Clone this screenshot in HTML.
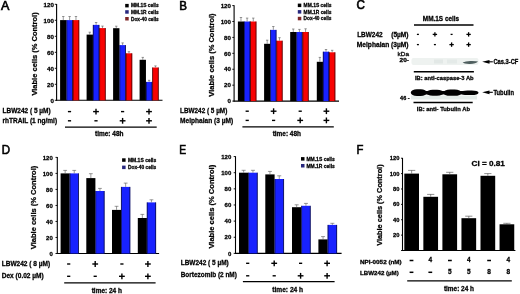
<!DOCTYPE html>
<html><head><meta charset="utf-8"><style>
html,body{margin:0;padding:0;background:#fff;width:520px;height:294px;overflow:hidden}
svg{display:block;font-family:"Liberation Sans", sans-serif;filter:blur(0.3px)}
text{stroke:#000;stroke-width:0.26px}
</style></head><body>
<svg width="520" height="294" viewBox="0 0 520 294">
<rect width="520" height="294" fill="#fff"/>
<text x="1.10" y="9.70" font-size="12.620027434842251" font-weight="normal" textLength="8.40" lengthAdjust="spacingAndGlyphs" style="stroke-width:0.65px">A</text>
<line x1="56.60" y1="4.00" x2="56.60" y2="100.80" stroke="#000" stroke-width="1.1"/>
<line x1="54.80" y1="100.30" x2="56.60" y2="100.30" stroke="#000" stroke-width="0.9"/>
<text x="53.90" y="102.53" font-size="6.2" font-weight="bold" text-anchor="end" >0</text>
<line x1="54.80" y1="84.30" x2="56.60" y2="84.30" stroke="#000" stroke-width="0.9"/>
<text x="53.90" y="86.53" font-size="6.2" font-weight="bold" text-anchor="end" >20</text>
<line x1="54.80" y1="68.30" x2="56.60" y2="68.30" stroke="#000" stroke-width="0.9"/>
<text x="53.90" y="70.53" font-size="6.2" font-weight="bold" text-anchor="end" >40</text>
<line x1="54.80" y1="52.30" x2="56.60" y2="52.30" stroke="#000" stroke-width="0.9"/>
<text x="53.90" y="54.53" font-size="6.2" font-weight="bold" text-anchor="end" >60</text>
<line x1="54.80" y1="36.30" x2="56.60" y2="36.30" stroke="#000" stroke-width="0.9"/>
<text x="53.90" y="38.53" font-size="6.2" font-weight="bold" text-anchor="end" >80</text>
<line x1="54.80" y1="20.30" x2="56.60" y2="20.30" stroke="#000" stroke-width="0.9"/>
<text x="53.90" y="22.53" font-size="6.2" font-weight="bold" text-anchor="end" >100</text>
<line x1="54.80" y1="4.30" x2="56.60" y2="4.30" stroke="#000" stroke-width="0.9"/>
<text x="53.90" y="6.53" font-size="6.2" font-weight="bold" text-anchor="end" >120</text>
<line x1="56.00" y1="100.30" x2="162.50" y2="100.30" stroke="#000" stroke-width="1.1"/>
<rect x="60.10" y="20.10" width="6.35" height="80.20" fill="#000"/>
<line x1="63.27" y1="16.50" x2="63.27" y2="20.10" stroke="#555" stroke-width="0.6"/>
<line x1="62.07" y1="16.50" x2="64.47" y2="16.50" stroke="#555" stroke-width="0.6"/>
<rect x="66.45" y="20.10" width="6.35" height="80.20" fill="#1822ff"/>
<line x1="66.75" y1="20.10" x2="66.75" y2="100.30" stroke="#000" stroke-width="0.6"/>
<line x1="72.50" y1="20.10" x2="72.50" y2="100.30" stroke="#000" stroke-width="0.6"/>
<line x1="69.62" y1="16.50" x2="69.62" y2="20.10" stroke="#555" stroke-width="0.6"/>
<line x1="68.42" y1="16.50" x2="70.83" y2="16.50" stroke="#555" stroke-width="0.6"/>
<rect x="72.80" y="20.10" width="6.35" height="80.20" fill="#f80202"/>
<line x1="73.10" y1="20.10" x2="73.10" y2="100.30" stroke="#000" stroke-width="0.6"/>
<line x1="78.85" y1="20.10" x2="78.85" y2="100.30" stroke="#000" stroke-width="0.6"/>
<line x1="75.97" y1="16.50" x2="75.97" y2="20.10" stroke="#555" stroke-width="0.6"/>
<line x1="74.77" y1="16.50" x2="77.17" y2="16.50" stroke="#555" stroke-width="0.6"/>
<rect x="86.60" y="34.60" width="6.35" height="65.70" fill="#000"/>
<line x1="89.77" y1="32.20" x2="89.77" y2="34.60" stroke="#555" stroke-width="0.6"/>
<line x1="88.57" y1="32.20" x2="90.97" y2="32.20" stroke="#555" stroke-width="0.6"/>
<rect x="92.95" y="24.90" width="6.35" height="75.40" fill="#1822ff"/>
<line x1="93.25" y1="24.90" x2="93.25" y2="100.30" stroke="#000" stroke-width="0.6"/>
<line x1="99.00" y1="24.90" x2="99.00" y2="100.30" stroke="#000" stroke-width="0.6"/>
<line x1="96.12" y1="22.50" x2="96.12" y2="24.90" stroke="#555" stroke-width="0.6"/>
<line x1="94.92" y1="22.50" x2="97.32" y2="22.50" stroke="#555" stroke-width="0.6"/>
<rect x="99.30" y="28.10" width="6.35" height="72.20" fill="#f80202"/>
<line x1="99.60" y1="28.10" x2="99.60" y2="100.30" stroke="#000" stroke-width="0.6"/>
<line x1="105.35" y1="28.10" x2="105.35" y2="100.30" stroke="#000" stroke-width="0.6"/>
<line x1="102.47" y1="26.10" x2="102.47" y2="28.10" stroke="#555" stroke-width="0.6"/>
<line x1="101.27" y1="26.10" x2="103.67" y2="26.10" stroke="#555" stroke-width="0.6"/>
<rect x="113.10" y="28.20" width="6.35" height="72.10" fill="#000"/>
<line x1="116.27" y1="26.20" x2="116.27" y2="28.20" stroke="#555" stroke-width="0.6"/>
<line x1="115.07" y1="26.20" x2="117.47" y2="26.20" stroke="#555" stroke-width="0.6"/>
<rect x="119.45" y="45.10" width="6.35" height="55.20" fill="#1822ff"/>
<line x1="119.75" y1="45.10" x2="119.75" y2="100.30" stroke="#000" stroke-width="0.6"/>
<line x1="125.50" y1="45.10" x2="125.50" y2="100.30" stroke="#000" stroke-width="0.6"/>
<line x1="122.62" y1="42.90" x2="122.62" y2="45.10" stroke="#555" stroke-width="0.6"/>
<line x1="121.42" y1="42.90" x2="123.82" y2="42.90" stroke="#555" stroke-width="0.6"/>
<rect x="125.80" y="53.30" width="6.35" height="47.00" fill="#f80202"/>
<line x1="126.10" y1="53.30" x2="126.10" y2="100.30" stroke="#000" stroke-width="0.6"/>
<line x1="131.85" y1="53.30" x2="131.85" y2="100.30" stroke="#000" stroke-width="0.6"/>
<line x1="128.97" y1="51.70" x2="128.97" y2="53.30" stroke="#555" stroke-width="0.6"/>
<line x1="127.77" y1="51.70" x2="130.17" y2="51.70" stroke="#555" stroke-width="0.6"/>
<rect x="139.60" y="59.80" width="6.35" height="40.50" fill="#000"/>
<line x1="142.78" y1="57.40" x2="142.78" y2="59.80" stroke="#555" stroke-width="0.6"/>
<line x1="141.58" y1="57.40" x2="143.97" y2="57.40" stroke="#555" stroke-width="0.6"/>
<rect x="145.95" y="81.90" width="6.35" height="18.40" fill="#1822ff"/>
<line x1="146.25" y1="81.90" x2="146.25" y2="100.30" stroke="#000" stroke-width="0.6"/>
<line x1="152.00" y1="81.90" x2="152.00" y2="100.30" stroke="#000" stroke-width="0.6"/>
<line x1="149.12" y1="80.30" x2="149.12" y2="81.90" stroke="#555" stroke-width="0.6"/>
<line x1="147.93" y1="80.30" x2="150.32" y2="80.30" stroke="#555" stroke-width="0.6"/>
<rect x="152.30" y="67.50" width="6.35" height="32.80" fill="#f80202"/>
<line x1="152.60" y1="67.50" x2="152.60" y2="100.30" stroke="#000" stroke-width="0.6"/>
<line x1="158.35" y1="67.50" x2="158.35" y2="100.30" stroke="#000" stroke-width="0.6"/>
<line x1="155.47" y1="65.90" x2="155.47" y2="67.50" stroke="#555" stroke-width="0.6"/>
<line x1="154.28" y1="65.90" x2="156.67" y2="65.90" stroke="#555" stroke-width="0.6"/>
<text x="-95.60" y="37.20" font-size="7.8" font-weight="bold" textLength="83.30" lengthAdjust="spacingAndGlyphs" transform="rotate(-90)">Viable cells (% Control)</text>
<rect x="125.20" y="3.90" width="3.50" height="3.50" fill="#000"/>
<text x="131.00" y="7.40" font-size="5.0" font-weight="bold" textLength="27.70" lengthAdjust="spacingAndGlyphs" >MM.1S cells</text>
<rect x="125.20" y="10.20" width="3.50" height="3.50" fill="#27277e"/>
<text x="131.00" y="13.70" font-size="5.0" font-weight="bold" textLength="27.70" lengthAdjust="spacingAndGlyphs" >MM.1R cells</text>
<rect x="125.20" y="17.00" width="3.50" height="3.50" fill="#7e2424"/>
<text x="131.00" y="20.50" font-size="5.0" font-weight="bold" textLength="27.70" lengthAdjust="spacingAndGlyphs" >Dox-40 cells</text>
<text x="2.50" y="113.10" font-size="6.7" font-weight="bold" textLength="48.20" lengthAdjust="spacingAndGlyphs" >LBW242 ( 5 &#181;M)</text>
<text x="2.50" y="122.80" font-size="6.7" font-weight="bold" textLength="54.60" lengthAdjust="spacingAndGlyphs" >rhTRAIL (1 ng/ml)</text>
<line x1="67.90" y1="111.60" x2="71.10" y2="111.60" stroke="#000" stroke-width="1.4"/>
<line x1="67.90" y1="120.80" x2="71.10" y2="120.80" stroke="#000" stroke-width="1.4"/>
<line x1="93.10" y1="111.60" x2="98.90" y2="111.60" stroke="#000" stroke-width="1.4"/>
<line x1="96.00" y1="108.70" x2="96.00" y2="114.50" stroke="#000" stroke-width="1.4"/>
<line x1="94.40" y1="120.80" x2="97.60" y2="120.80" stroke="#000" stroke-width="1.4"/>
<line x1="121.00" y1="111.60" x2="124.20" y2="111.60" stroke="#000" stroke-width="1.4"/>
<line x1="119.70" y1="120.80" x2="125.50" y2="120.80" stroke="#000" stroke-width="1.4"/>
<line x1="122.60" y1="117.90" x2="122.60" y2="123.70" stroke="#000" stroke-width="1.4"/>
<line x1="146.10" y1="111.60" x2="151.90" y2="111.60" stroke="#000" stroke-width="1.4"/>
<line x1="149.00" y1="108.70" x2="149.00" y2="114.50" stroke="#000" stroke-width="1.4"/>
<line x1="146.10" y1="120.80" x2="151.90" y2="120.80" stroke="#000" stroke-width="1.4"/>
<line x1="149.00" y1="117.90" x2="149.00" y2="123.70" stroke="#000" stroke-width="1.4"/>
<line x1="65.00" y1="127.20" x2="156.70" y2="127.20" stroke="#000" stroke-width="1.3"/>
<text x="95.00" y="136.30" font-size="6.3" font-weight="bold" textLength="28.50" lengthAdjust="spacingAndGlyphs" >time: 48h</text>
<text x="179.20" y="9.70" font-size="12.345679012345679" font-weight="normal" textLength="7.70" lengthAdjust="spacingAndGlyphs" style="stroke-width:0.65px">B</text>
<line x1="234.10" y1="5.28" x2="234.10" y2="101.60" stroke="#000" stroke-width="1.1"/>
<line x1="232.30" y1="101.10" x2="234.10" y2="101.10" stroke="#000" stroke-width="0.9"/>
<text x="231.00" y="103.33" font-size="6.2" font-weight="bold" text-anchor="end" >0</text>
<line x1="232.30" y1="85.18" x2="234.10" y2="85.18" stroke="#000" stroke-width="0.9"/>
<text x="231.00" y="87.41" font-size="6.2" font-weight="bold" text-anchor="end" >20</text>
<line x1="232.30" y1="69.26" x2="234.10" y2="69.26" stroke="#000" stroke-width="0.9"/>
<text x="231.00" y="71.49" font-size="6.2" font-weight="bold" text-anchor="end" >40</text>
<line x1="232.30" y1="53.34" x2="234.10" y2="53.34" stroke="#000" stroke-width="0.9"/>
<text x="231.00" y="55.57" font-size="6.2" font-weight="bold" text-anchor="end" >60</text>
<line x1="232.30" y1="37.42" x2="234.10" y2="37.42" stroke="#000" stroke-width="0.9"/>
<text x="231.00" y="39.65" font-size="6.2" font-weight="bold" text-anchor="end" >80</text>
<line x1="232.30" y1="21.50" x2="234.10" y2="21.50" stroke="#000" stroke-width="0.9"/>
<text x="231.00" y="23.73" font-size="6.2" font-weight="bold" text-anchor="end" >100</text>
<line x1="232.30" y1="5.58" x2="234.10" y2="5.58" stroke="#000" stroke-width="0.9"/>
<text x="231.00" y="7.81" font-size="6.2" font-weight="bold" text-anchor="end" >120</text>
<line x1="233.60" y1="101.10" x2="339.00" y2="101.10" stroke="#000" stroke-width="1.1"/>
<rect x="237.90" y="21.50" width="6.15" height="79.60" fill="#000"/>
<line x1="240.97" y1="17.50" x2="240.97" y2="21.50" stroke="#555" stroke-width="0.6"/>
<line x1="239.78" y1="17.50" x2="242.17" y2="17.50" stroke="#555" stroke-width="0.6"/>
<rect x="244.05" y="21.50" width="6.15" height="79.60" fill="#1822ff"/>
<line x1="244.35" y1="21.50" x2="244.35" y2="101.10" stroke="#000" stroke-width="0.6"/>
<line x1="249.90" y1="21.50" x2="249.90" y2="101.10" stroke="#000" stroke-width="0.6"/>
<line x1="247.12" y1="18.10" x2="247.12" y2="21.50" stroke="#555" stroke-width="0.6"/>
<line x1="245.93" y1="18.10" x2="248.32" y2="18.10" stroke="#555" stroke-width="0.6"/>
<rect x="250.20" y="21.50" width="6.15" height="79.60" fill="#f80202"/>
<line x1="250.50" y1="21.50" x2="250.50" y2="101.10" stroke="#000" stroke-width="0.6"/>
<line x1="256.05" y1="21.50" x2="256.05" y2="101.10" stroke="#000" stroke-width="0.6"/>
<line x1="253.28" y1="18.10" x2="253.28" y2="21.50" stroke="#555" stroke-width="0.6"/>
<line x1="252.08" y1="18.10" x2="254.47" y2="18.10" stroke="#555" stroke-width="0.6"/>
<rect x="264.10" y="43.80" width="6.15" height="57.30" fill="#000"/>
<line x1="267.18" y1="40.20" x2="267.18" y2="43.80" stroke="#555" stroke-width="0.6"/>
<line x1="265.98" y1="40.20" x2="268.38" y2="40.20" stroke="#555" stroke-width="0.6"/>
<rect x="270.25" y="29.90" width="6.15" height="71.20" fill="#1822ff"/>
<line x1="270.55" y1="29.90" x2="270.55" y2="101.10" stroke="#000" stroke-width="0.6"/>
<line x1="276.10" y1="29.90" x2="276.10" y2="101.10" stroke="#000" stroke-width="0.6"/>
<line x1="273.32" y1="26.50" x2="273.32" y2="29.90" stroke="#555" stroke-width="0.6"/>
<line x1="272.12" y1="26.50" x2="274.52" y2="26.50" stroke="#555" stroke-width="0.6"/>
<rect x="276.40" y="40.70" width="6.15" height="60.40" fill="#f80202"/>
<line x1="276.70" y1="40.70" x2="276.70" y2="101.10" stroke="#000" stroke-width="0.6"/>
<line x1="282.25" y1="40.70" x2="282.25" y2="101.10" stroke="#000" stroke-width="0.6"/>
<line x1="279.48" y1="37.70" x2="279.48" y2="40.70" stroke="#555" stroke-width="0.6"/>
<line x1="278.28" y1="37.70" x2="280.68" y2="37.70" stroke="#555" stroke-width="0.6"/>
<rect x="290.20" y="32.00" width="6.15" height="69.10" fill="#000"/>
<line x1="293.27" y1="29.00" x2="293.27" y2="32.00" stroke="#555" stroke-width="0.6"/>
<line x1="292.07" y1="29.00" x2="294.47" y2="29.00" stroke="#555" stroke-width="0.6"/>
<rect x="296.35" y="32.00" width="6.15" height="69.10" fill="#1822ff"/>
<line x1="296.65" y1="32.00" x2="296.65" y2="101.10" stroke="#000" stroke-width="0.6"/>
<line x1="302.20" y1="32.00" x2="302.20" y2="101.10" stroke="#000" stroke-width="0.6"/>
<line x1="299.42" y1="29.40" x2="299.42" y2="32.00" stroke="#555" stroke-width="0.6"/>
<line x1="298.22" y1="29.40" x2="300.62" y2="29.40" stroke="#555" stroke-width="0.6"/>
<rect x="302.50" y="32.00" width="6.15" height="69.10" fill="#f80202"/>
<line x1="302.80" y1="32.00" x2="302.80" y2="101.10" stroke="#000" stroke-width="0.6"/>
<line x1="308.35" y1="32.00" x2="308.35" y2="101.10" stroke="#000" stroke-width="0.6"/>
<line x1="305.57" y1="28.80" x2="305.57" y2="32.00" stroke="#555" stroke-width="0.6"/>
<line x1="304.38" y1="28.80" x2="306.77" y2="28.80" stroke="#555" stroke-width="0.6"/>
<rect x="316.80" y="61.80" width="6.15" height="39.30" fill="#000"/>
<line x1="319.88" y1="57.40" x2="319.88" y2="61.80" stroke="#555" stroke-width="0.6"/>
<line x1="318.68" y1="57.40" x2="321.07" y2="57.40" stroke="#555" stroke-width="0.6"/>
<rect x="322.95" y="51.70" width="6.15" height="49.40" fill="#1822ff"/>
<line x1="323.25" y1="51.70" x2="323.25" y2="101.10" stroke="#000" stroke-width="0.6"/>
<line x1="328.80" y1="51.70" x2="328.80" y2="101.10" stroke="#000" stroke-width="0.6"/>
<line x1="326.02" y1="49.50" x2="326.02" y2="51.70" stroke="#555" stroke-width="0.6"/>
<line x1="324.82" y1="49.50" x2="327.22" y2="49.50" stroke="#555" stroke-width="0.6"/>
<rect x="329.10" y="52.30" width="6.15" height="48.80" fill="#f80202"/>
<line x1="329.40" y1="52.30" x2="329.40" y2="101.10" stroke="#000" stroke-width="0.6"/>
<line x1="334.95" y1="52.30" x2="334.95" y2="101.10" stroke="#000" stroke-width="0.6"/>
<line x1="332.18" y1="50.30" x2="332.18" y2="52.30" stroke="#555" stroke-width="0.6"/>
<line x1="330.98" y1="50.30" x2="333.38" y2="50.30" stroke="#555" stroke-width="0.6"/>
<text x="-96.70" y="214.10" font-size="7.8" font-weight="bold" textLength="83.30" lengthAdjust="spacingAndGlyphs" transform="rotate(-90)">Viable cells (% Control)</text>
<rect x="297.80" y="3.60" width="3.50" height="3.50" fill="#000"/>
<text x="303.60" y="7.10" font-size="5.0" font-weight="bold" textLength="27.90" lengthAdjust="spacingAndGlyphs" >MM.1S cells</text>
<rect x="297.80" y="10.10" width="3.50" height="3.50" fill="#27277e"/>
<text x="303.60" y="13.60" font-size="5.0" font-weight="bold" textLength="27.90" lengthAdjust="spacingAndGlyphs" >MM.1R cells</text>
<rect x="297.80" y="16.80" width="3.50" height="3.50" fill="#7e2424"/>
<text x="303.60" y="20.30" font-size="5.0" font-weight="bold" textLength="27.90" lengthAdjust="spacingAndGlyphs" >Dox-40 cells</text>
<text x="180.00" y="113.00" font-size="6.7" font-weight="bold" textLength="47.30" lengthAdjust="spacingAndGlyphs" >LBW242 ( 5 &#181;M)</text>
<text x="180.00" y="122.50" font-size="6.7" font-weight="bold" textLength="53.10" lengthAdjust="spacingAndGlyphs" >Melphalan (3 &#181;M)</text>
<line x1="245.60" y1="111.20" x2="248.80" y2="111.20" stroke="#000" stroke-width="1.4"/>
<line x1="245.60" y1="120.40" x2="248.80" y2="120.40" stroke="#000" stroke-width="1.4"/>
<line x1="270.70" y1="111.20" x2="276.50" y2="111.20" stroke="#000" stroke-width="1.4"/>
<line x1="273.60" y1="108.30" x2="273.60" y2="114.10" stroke="#000" stroke-width="1.4"/>
<line x1="272.00" y1="120.40" x2="275.20" y2="120.40" stroke="#000" stroke-width="1.4"/>
<line x1="298.60" y1="111.20" x2="301.80" y2="111.20" stroke="#000" stroke-width="1.4"/>
<line x1="297.30" y1="120.40" x2="303.10" y2="120.40" stroke="#000" stroke-width="1.4"/>
<line x1="300.20" y1="117.50" x2="300.20" y2="123.30" stroke="#000" stroke-width="1.4"/>
<line x1="323.50" y1="111.20" x2="329.30" y2="111.20" stroke="#000" stroke-width="1.4"/>
<line x1="326.40" y1="108.30" x2="326.40" y2="114.10" stroke="#000" stroke-width="1.4"/>
<line x1="323.50" y1="120.40" x2="329.30" y2="120.40" stroke="#000" stroke-width="1.4"/>
<line x1="326.40" y1="117.50" x2="326.40" y2="123.30" stroke="#000" stroke-width="1.4"/>
<line x1="242.40" y1="126.80" x2="333.80" y2="126.80" stroke="#000" stroke-width="1.3"/>
<text x="272.70" y="136.00" font-size="6.3" font-weight="bold" textLength="28.30" lengthAdjust="spacingAndGlyphs" >time: 48h</text>
<text x="356.40" y="9.40" font-size="12.07133058984911" font-weight="normal" textLength="8.40" lengthAdjust="spacingAndGlyphs" style="stroke-width:0.65px">C</text>
<text x="422.80" y="21.40" font-size="6.3" font-weight="bold" textLength="36.40" lengthAdjust="spacingAndGlyphs" >MM.1S cells</text>
<line x1="414.00" y1="24.90" x2="473.50" y2="24.90" stroke="#000" stroke-width="1.5"/>
<text x="357.20" y="37.00" font-size="6.6" font-weight="bold" textLength="25.40" lengthAdjust="spacingAndGlyphs" >LBW242</text>
<text x="391.20" y="37.00" font-size="6.6" font-weight="bold" textLength="17.30" lengthAdjust="spacingAndGlyphs" >(5&#181;M)</text>
<text x="356.80" y="46.70" font-size="6.6" font-weight="bold" textLength="51.70" lengthAdjust="spacingAndGlyphs" >Melphalan (3&#181;M)</text>
<line x1="416.90" y1="34.40" x2="418.90" y2="34.40" stroke="#000" stroke-width="1.3"/>
<line x1="416.90" y1="44.60" x2="418.90" y2="44.60" stroke="#000" stroke-width="1.3"/>
<line x1="432.70" y1="34.40" x2="437.10" y2="34.40" stroke="#000" stroke-width="1.3"/>
<line x1="434.90" y1="32.20" x2="434.90" y2="36.60" stroke="#000" stroke-width="1.3"/>
<line x1="433.90" y1="44.60" x2="435.90" y2="44.60" stroke="#000" stroke-width="1.3"/>
<line x1="450.60" y1="34.40" x2="452.60" y2="34.40" stroke="#000" stroke-width="1.3"/>
<line x1="449.40" y1="44.60" x2="453.80" y2="44.60" stroke="#000" stroke-width="1.3"/>
<line x1="451.60" y1="42.40" x2="451.60" y2="46.80" stroke="#000" stroke-width="1.3"/>
<line x1="466.40" y1="34.40" x2="470.80" y2="34.40" stroke="#000" stroke-width="1.3"/>
<line x1="468.60" y1="32.20" x2="468.60" y2="36.60" stroke="#000" stroke-width="1.3"/>
<line x1="466.40" y1="44.60" x2="470.80" y2="44.60" stroke="#000" stroke-width="1.3"/>
<line x1="468.60" y1="42.40" x2="468.60" y2="46.80" stroke="#000" stroke-width="1.3"/>
<text x="397.60" y="55.90" font-size="5.9" font-weight="normal" textLength="11.50" lengthAdjust="spacingAndGlyphs" >kDa</text>
<text x="399.60" y="62.00" font-size="5.0" font-weight="bold" textLength="9.40" lengthAdjust="spacingAndGlyphs" >20-</text>
<rect x="411.5" y="58" width="67" height="7" rx="2" fill="#eef2f0"/>
<rect x="434" y="59.5" width="9" height="4" fill="#e2e8e6"/>
<rect x="447" y="59.5" width="10" height="4" fill="#e4eae8"/>
<path d="M462.6 62.6 Q466 60.8 472 61.1 Q477 61.3 478 61.6 Q476 63.8 470 64 Q464 64.1 462.6 62.6 Z" fill="#4e5e5e"/>
<line x1="413.80" y1="71.80" x2="473.90" y2="71.80" stroke="#000" stroke-width="1.5"/>
<text x="415.00" y="79.80" font-size="6.0" font-weight="bold" textLength="58.60" lengthAdjust="spacingAndGlyphs" >IB: anti-caspase-3 Ab</text>
<rect x="411" y="95.5" width="66" height="4" fill="#e3ebe8"/>
<rect x="410.80" y="89.30" width="16.00" height="6.70" rx="6.08" ry="3.35" fill="#000"/>
<rect x="426.00" y="89.80" width="17.80" height="5.90" rx="6.76" ry="2.95" fill="#000"/>
<rect x="443.20" y="89.60" width="18.40" height="6.20" rx="6.99" ry="3.10" fill="#000"/>
<rect x="460.80" y="90.40" width="17.70" height="4.70" rx="6.73" ry="2.35" fill="#000"/>
<rect x="416" y="91.0" width="58" height="3.4" fill="#000"/>
<line x1="413.50" y1="102.40" x2="472.70" y2="102.40" stroke="#000" stroke-width="1.5"/>
<text x="416.80" y="110.90" font-size="6.0" font-weight="bold" textLength="53.20" lengthAdjust="spacingAndGlyphs" >IB: anti- Tubulin Ab</text>
<text x="400.10" y="99.80" font-size="5.2" font-weight="bold" textLength="9.50" lengthAdjust="spacingAndGlyphs" >46 -</text>
<path d="M482.2 61.8 L489.5 59.9 L489.5 63.699999999999996 Z" fill="#000"/>
<line x1="489.00" y1="61.80" x2="492.80" y2="61.80" stroke="#000" stroke-width="1.1"/>
<text x="493.40" y="64.00" font-size="6.3" font-weight="bold" textLength="25.00" lengthAdjust="spacingAndGlyphs" >Cas.3-CF</text>
<path d="M482.2 92.3 L489.5 90.39999999999999 L489.5 94.2 Z" fill="#000"/>
<line x1="489.00" y1="92.30" x2="492.80" y2="92.30" stroke="#000" stroke-width="1.1"/>
<text x="493.40" y="94.50" font-size="6.3" font-weight="bold" textLength="20.60" lengthAdjust="spacingAndGlyphs" >Tubulin</text>
<text x="1.80" y="153.60" font-size="12.757201646090511" font-weight="normal" textLength="8.30" lengthAdjust="spacingAndGlyphs" style="stroke-width:0.65px">D</text>
<line x1="57.30" y1="157.08" x2="57.30" y2="254.00" stroke="#000" stroke-width="1.1"/>
<line x1="55.50" y1="253.50" x2="57.30" y2="253.50" stroke="#000" stroke-width="0.9"/>
<text x="52.80" y="255.66" font-size="6.0" font-weight="bold" text-anchor="end" >0</text>
<line x1="55.50" y1="237.48" x2="57.30" y2="237.48" stroke="#000" stroke-width="0.9"/>
<text x="52.80" y="239.64" font-size="6.0" font-weight="bold" text-anchor="end" >20</text>
<line x1="55.50" y1="221.46" x2="57.30" y2="221.46" stroke="#000" stroke-width="0.9"/>
<text x="52.80" y="223.62" font-size="6.0" font-weight="bold" text-anchor="end" >40</text>
<line x1="55.50" y1="205.44" x2="57.30" y2="205.44" stroke="#000" stroke-width="0.9"/>
<text x="52.80" y="207.60" font-size="6.0" font-weight="bold" text-anchor="end" >60</text>
<line x1="55.50" y1="189.42" x2="57.30" y2="189.42" stroke="#000" stroke-width="0.9"/>
<text x="52.80" y="191.58" font-size="6.0" font-weight="bold" text-anchor="end" >80</text>
<line x1="55.50" y1="173.40" x2="57.30" y2="173.40" stroke="#000" stroke-width="0.9"/>
<text x="52.80" y="175.56" font-size="6.0" font-weight="bold" text-anchor="end" >100</text>
<line x1="55.50" y1="157.38" x2="57.30" y2="157.38" stroke="#000" stroke-width="0.9"/>
<text x="52.80" y="159.54" font-size="6.0" font-weight="bold" text-anchor="end" >120</text>
<line x1="56.80" y1="253.50" x2="159.10" y2="253.50" stroke="#000" stroke-width="1.1"/>
<rect x="60.60" y="173.40" width="9.10" height="80.10" fill="#000"/>
<line x1="65.15" y1="170.40" x2="65.15" y2="173.40" stroke="#555" stroke-width="0.6"/>
<line x1="63.25" y1="170.40" x2="67.05" y2="170.40" stroke="#555" stroke-width="0.6"/>
<rect x="69.70" y="173.40" width="9.10" height="80.10" fill="#1822ff"/>
<line x1="70.00" y1="173.40" x2="70.00" y2="253.50" stroke="#000" stroke-width="0.6"/>
<line x1="78.50" y1="173.40" x2="78.50" y2="253.50" stroke="#000" stroke-width="0.6"/>
<line x1="74.25" y1="170.40" x2="74.25" y2="173.40" stroke="#555" stroke-width="0.6"/>
<line x1="72.35" y1="170.40" x2="76.15" y2="170.40" stroke="#555" stroke-width="0.6"/>
<rect x="86.30" y="178.10" width="9.10" height="75.40" fill="#000"/>
<line x1="90.85" y1="173.70" x2="90.85" y2="178.10" stroke="#555" stroke-width="0.6"/>
<line x1="88.95" y1="173.70" x2="92.75" y2="173.70" stroke="#555" stroke-width="0.6"/>
<rect x="95.40" y="191.00" width="9.10" height="62.50" fill="#1822ff"/>
<line x1="95.70" y1="191.00" x2="95.70" y2="253.50" stroke="#000" stroke-width="0.6"/>
<line x1="104.20" y1="191.00" x2="104.20" y2="253.50" stroke="#000" stroke-width="0.6"/>
<line x1="99.95" y1="188.40" x2="99.95" y2="191.00" stroke="#555" stroke-width="0.6"/>
<line x1="98.05" y1="188.40" x2="101.85" y2="188.40" stroke="#555" stroke-width="0.6"/>
<rect x="112.00" y="209.90" width="9.10" height="43.60" fill="#000"/>
<line x1="116.55" y1="206.30" x2="116.55" y2="209.90" stroke="#555" stroke-width="0.6"/>
<line x1="114.65" y1="206.30" x2="118.45" y2="206.30" stroke="#555" stroke-width="0.6"/>
<rect x="121.10" y="186.90" width="9.10" height="66.60" fill="#1822ff"/>
<line x1="121.40" y1="186.90" x2="121.40" y2="253.50" stroke="#000" stroke-width="0.6"/>
<line x1="129.90" y1="186.90" x2="129.90" y2="253.50" stroke="#000" stroke-width="0.6"/>
<line x1="125.65" y1="183.10" x2="125.65" y2="186.90" stroke="#555" stroke-width="0.6"/>
<line x1="123.75" y1="183.10" x2="127.55" y2="183.10" stroke="#555" stroke-width="0.6"/>
<rect x="137.80" y="218.00" width="9.10" height="35.50" fill="#000"/>
<line x1="142.35" y1="214.40" x2="142.35" y2="218.00" stroke="#555" stroke-width="0.6"/>
<line x1="140.45" y1="214.40" x2="144.25" y2="214.40" stroke="#555" stroke-width="0.6"/>
<rect x="146.90" y="202.40" width="9.10" height="51.10" fill="#1822ff"/>
<line x1="147.20" y1="202.40" x2="147.20" y2="253.50" stroke="#000" stroke-width="0.6"/>
<line x1="155.70" y1="202.40" x2="155.70" y2="253.50" stroke="#000" stroke-width="0.6"/>
<line x1="151.45" y1="199.80" x2="151.45" y2="202.40" stroke="#555" stroke-width="0.6"/>
<line x1="149.55" y1="199.80" x2="153.35" y2="199.80" stroke="#555" stroke-width="0.6"/>
<text x="-249.20" y="35.80" font-size="7.8" font-weight="bold" textLength="83.50" lengthAdjust="spacingAndGlyphs" transform="rotate(-90)">Viable cells (% Control)</text>
<rect x="122.10" y="158.30" width="3.50" height="3.50" fill="#000"/>
<text x="127.90" y="161.80" font-size="5.0" font-weight="bold" textLength="28.40" lengthAdjust="spacingAndGlyphs" >MM.1S cells</text>
<rect x="122.10" y="165.60" width="3.50" height="3.50" fill="#27277e"/>
<text x="127.90" y="169.10" font-size="5.0" font-weight="bold" textLength="28.40" lengthAdjust="spacingAndGlyphs" >Dox-40 cells</text>
<text x="1.70" y="265.50" font-size="6.7" font-weight="bold" textLength="48.50" lengthAdjust="spacingAndGlyphs" >LBW242 ( 8 &#181;M)</text>
<text x="1.70" y="277.90" font-size="6.7" font-weight="bold" textLength="42.10" lengthAdjust="spacingAndGlyphs" >Dex (0.02 &#181;M)</text>
<line x1="67.10" y1="264.00" x2="70.30" y2="264.00" stroke="#000" stroke-width="1.4"/>
<line x1="67.10" y1="276.30" x2="70.30" y2="276.30" stroke="#000" stroke-width="1.4"/>
<line x1="92.30" y1="264.00" x2="98.10" y2="264.00" stroke="#000" stroke-width="1.4"/>
<line x1="95.20" y1="261.10" x2="95.20" y2="266.90" stroke="#000" stroke-width="1.4"/>
<line x1="93.60" y1="276.30" x2="96.80" y2="276.30" stroke="#000" stroke-width="1.4"/>
<line x1="120.30" y1="264.00" x2="123.50" y2="264.00" stroke="#000" stroke-width="1.4"/>
<line x1="119.00" y1="276.30" x2="124.80" y2="276.30" stroke="#000" stroke-width="1.4"/>
<line x1="121.90" y1="273.40" x2="121.90" y2="279.20" stroke="#000" stroke-width="1.4"/>
<line x1="145.00" y1="264.00" x2="150.80" y2="264.00" stroke="#000" stroke-width="1.4"/>
<line x1="147.90" y1="261.10" x2="147.90" y2="266.90" stroke="#000" stroke-width="1.4"/>
<line x1="145.00" y1="276.30" x2="150.80" y2="276.30" stroke="#000" stroke-width="1.4"/>
<line x1="147.90" y1="273.40" x2="147.90" y2="279.20" stroke="#000" stroke-width="1.4"/>
<line x1="64.20" y1="282.90" x2="155.60" y2="282.90" stroke="#000" stroke-width="1.3"/>
<text x="91.70" y="292.90" font-size="6.3" font-weight="bold" textLength="30.20" lengthAdjust="spacingAndGlyphs" >time: 24 h</text>
<text x="179.20" y="153.60" font-size="13.168724279835384" font-weight="normal" textLength="6.90" lengthAdjust="spacingAndGlyphs" style="stroke-width:0.65px">E</text>
<line x1="235.50" y1="156.26" x2="235.50" y2="253.90" stroke="#000" stroke-width="1.1"/>
<line x1="233.70" y1="253.40" x2="235.50" y2="253.40" stroke="#000" stroke-width="0.9"/>
<text x="231.30" y="255.56" font-size="6.0" font-weight="bold" text-anchor="end" >0</text>
<line x1="233.70" y1="237.26" x2="235.50" y2="237.26" stroke="#000" stroke-width="0.9"/>
<text x="231.30" y="239.42" font-size="6.0" font-weight="bold" text-anchor="end" >20</text>
<line x1="233.70" y1="221.12" x2="235.50" y2="221.12" stroke="#000" stroke-width="0.9"/>
<text x="231.30" y="223.28" font-size="6.0" font-weight="bold" text-anchor="end" >40</text>
<line x1="233.70" y1="204.98" x2="235.50" y2="204.98" stroke="#000" stroke-width="0.9"/>
<text x="231.30" y="207.14" font-size="6.0" font-weight="bold" text-anchor="end" >60</text>
<line x1="233.70" y1="188.84" x2="235.50" y2="188.84" stroke="#000" stroke-width="0.9"/>
<text x="231.30" y="191.00" font-size="6.0" font-weight="bold" text-anchor="end" >80</text>
<line x1="233.70" y1="172.70" x2="235.50" y2="172.70" stroke="#000" stroke-width="0.9"/>
<text x="231.30" y="174.86" font-size="6.0" font-weight="bold" text-anchor="end" >100</text>
<line x1="233.70" y1="156.56" x2="235.50" y2="156.56" stroke="#000" stroke-width="0.9"/>
<text x="231.30" y="158.72" font-size="6.0" font-weight="bold" text-anchor="end" >120</text>
<line x1="235.00" y1="253.40" x2="341.60" y2="253.40" stroke="#000" stroke-width="1.1"/>
<rect x="239.00" y="172.70" width="9.30" height="80.70" fill="#000"/>
<line x1="243.65" y1="170.30" x2="243.65" y2="172.70" stroke="#555" stroke-width="0.6"/>
<line x1="241.65" y1="170.30" x2="245.65" y2="170.30" stroke="#555" stroke-width="0.6"/>
<rect x="248.30" y="172.70" width="9.30" height="80.70" fill="#1822ff"/>
<line x1="248.60" y1="172.70" x2="248.60" y2="253.40" stroke="#000" stroke-width="0.6"/>
<line x1="257.30" y1="172.70" x2="257.30" y2="253.40" stroke="#000" stroke-width="0.6"/>
<line x1="252.95" y1="170.30" x2="252.95" y2="172.70" stroke="#555" stroke-width="0.6"/>
<line x1="250.95" y1="170.30" x2="254.95" y2="170.30" stroke="#555" stroke-width="0.6"/>
<rect x="265.30" y="174.40" width="9.30" height="79.00" fill="#000"/>
<line x1="269.95" y1="171.40" x2="269.95" y2="174.40" stroke="#555" stroke-width="0.6"/>
<line x1="267.95" y1="171.40" x2="271.95" y2="171.40" stroke="#555" stroke-width="0.6"/>
<rect x="274.60" y="179.00" width="9.30" height="74.40" fill="#1822ff"/>
<line x1="274.90" y1="179.00" x2="274.90" y2="253.40" stroke="#000" stroke-width="0.6"/>
<line x1="283.60" y1="179.00" x2="283.60" y2="253.40" stroke="#000" stroke-width="0.6"/>
<line x1="279.25" y1="175.80" x2="279.25" y2="179.00" stroke="#555" stroke-width="0.6"/>
<line x1="277.25" y1="175.80" x2="281.25" y2="175.80" stroke="#555" stroke-width="0.6"/>
<rect x="292.00" y="207.20" width="9.30" height="46.20" fill="#000"/>
<line x1="296.65" y1="204.80" x2="296.65" y2="207.20" stroke="#555" stroke-width="0.6"/>
<line x1="294.65" y1="204.80" x2="298.65" y2="204.80" stroke="#555" stroke-width="0.6"/>
<rect x="301.30" y="205.80" width="9.30" height="47.60" fill="#1822ff"/>
<line x1="301.60" y1="205.80" x2="301.60" y2="253.40" stroke="#000" stroke-width="0.6"/>
<line x1="310.30" y1="205.80" x2="310.30" y2="253.40" stroke="#000" stroke-width="0.6"/>
<line x1="305.95" y1="203.40" x2="305.95" y2="205.80" stroke="#555" stroke-width="0.6"/>
<line x1="303.95" y1="203.40" x2="307.95" y2="203.40" stroke="#555" stroke-width="0.6"/>
<rect x="318.40" y="239.40" width="9.30" height="14.00" fill="#000"/>
<line x1="323.05" y1="236.60" x2="323.05" y2="239.40" stroke="#555" stroke-width="0.6"/>
<line x1="321.05" y1="236.60" x2="325.05" y2="236.60" stroke="#555" stroke-width="0.6"/>
<rect x="327.70" y="224.90" width="9.30" height="28.50" fill="#1822ff"/>
<line x1="328.00" y1="224.90" x2="328.00" y2="253.40" stroke="#000" stroke-width="0.6"/>
<line x1="336.70" y1="224.90" x2="336.70" y2="253.40" stroke="#000" stroke-width="0.6"/>
<line x1="332.35" y1="223.30" x2="332.35" y2="224.90" stroke="#555" stroke-width="0.6"/>
<line x1="330.35" y1="223.30" x2="334.35" y2="223.30" stroke="#555" stroke-width="0.6"/>
<text x="-248.60" y="214.40" font-size="7.8" font-weight="bold" textLength="83.80" lengthAdjust="spacingAndGlyphs" transform="rotate(-90)">Viable cells (% Control)</text>
<rect x="301.00" y="157.10" width="3.50" height="3.50" fill="#000"/>
<text x="306.40" y="160.60" font-size="5.0" font-weight="bold" textLength="28.40" lengthAdjust="spacingAndGlyphs" >MM.1S cells</text>
<rect x="301.00" y="164.00" width="3.50" height="3.50" fill="#27277e"/>
<text x="306.40" y="167.50" font-size="5.0" font-weight="bold" textLength="28.40" lengthAdjust="spacingAndGlyphs" >MM.1R cells</text>
<text x="180.70" y="264.50" font-size="6.7" font-weight="bold" textLength="48.00" lengthAdjust="spacingAndGlyphs" >LBW242 ( 5 &#181;M)</text>
<text x="180.70" y="277.40" font-size="6.7" font-weight="bold" textLength="56.20" lengthAdjust="spacingAndGlyphs" >Bortezomib (2 nM)</text>
<line x1="246.10" y1="263.30" x2="249.30" y2="263.30" stroke="#000" stroke-width="1.4"/>
<line x1="246.10" y1="275.80" x2="249.30" y2="275.80" stroke="#000" stroke-width="1.4"/>
<line x1="271.30" y1="263.30" x2="277.10" y2="263.30" stroke="#000" stroke-width="1.4"/>
<line x1="274.20" y1="260.40" x2="274.20" y2="266.20" stroke="#000" stroke-width="1.4"/>
<line x1="272.60" y1="275.80" x2="275.80" y2="275.80" stroke="#000" stroke-width="1.4"/>
<line x1="299.00" y1="263.30" x2="302.20" y2="263.30" stroke="#000" stroke-width="1.4"/>
<line x1="297.70" y1="275.80" x2="303.50" y2="275.80" stroke="#000" stroke-width="1.4"/>
<line x1="300.60" y1="272.90" x2="300.60" y2="278.70" stroke="#000" stroke-width="1.4"/>
<line x1="324.20" y1="263.30" x2="330.00" y2="263.30" stroke="#000" stroke-width="1.4"/>
<line x1="327.10" y1="260.40" x2="327.10" y2="266.20" stroke="#000" stroke-width="1.4"/>
<line x1="324.20" y1="275.80" x2="330.00" y2="275.80" stroke="#000" stroke-width="1.4"/>
<line x1="327.10" y1="272.90" x2="327.10" y2="278.70" stroke="#000" stroke-width="1.4"/>
<line x1="242.90" y1="281.70" x2="334.60" y2="281.70" stroke="#000" stroke-width="1.3"/>
<text x="272.30" y="291.60" font-size="6.3" font-weight="bold" textLength="30.80" lengthAdjust="spacingAndGlyphs" >time: 24 h</text>
<text x="356.40" y="153.80" font-size="13.443072702331978" font-weight="normal" textLength="6.90" lengthAdjust="spacingAndGlyphs" style="stroke-width:0.65px">F</text>
<line x1="402.50" y1="157.92" x2="402.50" y2="251.00" stroke="#000" stroke-width="1.1"/>
<line x1="401.00" y1="250.50" x2="402.50" y2="250.50" stroke="#000" stroke-width="0.9"/>
<line x1="401.00" y1="235.12" x2="402.50" y2="235.12" stroke="#000" stroke-width="0.9"/>
<text x="399.40" y="237.21" font-size="5.8" font-weight="bold" text-anchor="end" >20</text>
<line x1="401.00" y1="219.74" x2="402.50" y2="219.74" stroke="#000" stroke-width="0.9"/>
<text x="399.40" y="221.83" font-size="5.8" font-weight="bold" text-anchor="end" >40</text>
<line x1="401.00" y1="204.36" x2="402.50" y2="204.36" stroke="#000" stroke-width="0.9"/>
<text x="399.40" y="206.45" font-size="5.8" font-weight="bold" text-anchor="end" >60</text>
<line x1="401.00" y1="188.98" x2="402.50" y2="188.98" stroke="#000" stroke-width="0.9"/>
<text x="399.40" y="191.07" font-size="5.8" font-weight="bold" text-anchor="end" >80</text>
<line x1="401.00" y1="173.60" x2="402.50" y2="173.60" stroke="#000" stroke-width="0.9"/>
<text x="399.40" y="175.69" font-size="5.8" font-weight="bold" text-anchor="end" >100</text>
<line x1="401.00" y1="158.22" x2="402.50" y2="158.22" stroke="#000" stroke-width="0.9"/>
<text x="399.40" y="160.31" font-size="5.8" font-weight="bold" text-anchor="end" >120</text>
<line x1="402.00" y1="250.50" x2="515.40" y2="250.50" stroke="#000" stroke-width="1.2"/>
<rect x="404.30" y="173.60" width="14.70" height="76.90" fill="#000"/>
<line x1="411.65" y1="170.40" x2="411.65" y2="173.60" stroke="#444" stroke-width="0.6"/>
<line x1="408.05" y1="170.40" x2="415.25" y2="170.40" stroke="#444" stroke-width="0.6"/>
<rect x="423.35" y="196.80" width="14.70" height="53.70" fill="#000"/>
<line x1="430.70" y1="194.40" x2="430.70" y2="196.80" stroke="#444" stroke-width="0.6"/>
<line x1="427.10" y1="194.40" x2="434.30" y2="194.40" stroke="#444" stroke-width="0.6"/>
<rect x="442.40" y="174.30" width="14.70" height="76.20" fill="#000"/>
<line x1="449.75" y1="172.30" x2="449.75" y2="174.30" stroke="#444" stroke-width="0.6"/>
<line x1="446.15" y1="172.30" x2="453.35" y2="172.30" stroke="#444" stroke-width="0.6"/>
<rect x="461.45" y="218.20" width="14.70" height="32.30" fill="#000"/>
<line x1="468.80" y1="216.20" x2="468.80" y2="218.20" stroke="#444" stroke-width="0.6"/>
<line x1="465.20" y1="216.20" x2="472.40" y2="216.20" stroke="#444" stroke-width="0.6"/>
<rect x="480.50" y="175.80" width="14.70" height="74.70" fill="#000"/>
<line x1="487.85" y1="173.60" x2="487.85" y2="175.80" stroke="#444" stroke-width="0.6"/>
<line x1="484.25" y1="173.60" x2="491.45" y2="173.60" stroke="#444" stroke-width="0.6"/>
<rect x="499.55" y="224.30" width="14.70" height="26.20" fill="#000"/>
<line x1="506.90" y1="223.30" x2="506.90" y2="224.30" stroke="#444" stroke-width="0.6"/>
<line x1="503.30" y1="223.30" x2="510.50" y2="223.30" stroke="#444" stroke-width="0.6"/>
<text x="-245.80" y="381.90" font-size="8.0" font-weight="bold" textLength="81.40" lengthAdjust="spacingAndGlyphs" transform="rotate(-90)">Viable cells (% Control)</text>
<text x="471.60" y="166.30" font-size="7.8" font-weight="bold" textLength="33.30" lengthAdjust="spacingAndGlyphs" >CI = 0.81</text>
<text x="360.00" y="263.80" font-size="5.8" font-weight="bold" textLength="41.70" lengthAdjust="spacingAndGlyphs" >NPI-0052 (nM)</text>
<text x="360.00" y="274.70" font-size="5.8" font-weight="bold" textLength="38.80" lengthAdjust="spacingAndGlyphs" >LBW242 (&#181;M)</text>
<line x1="409.60" y1="260.50" x2="413.40" y2="260.50" stroke="#000" stroke-width="1.5"/>
<line x1="409.60" y1="272.30" x2="413.40" y2="272.30" stroke="#000" stroke-width="1.5"/>
<text x="430.30" y="262.10" font-size="6.5" font-weight="bold" text-anchor="middle" >4</text>
<line x1="428.40" y1="272.30" x2="432.20" y2="272.30" stroke="#000" stroke-width="1.5"/>
<line x1="448.00" y1="260.50" x2="451.80" y2="260.50" stroke="#000" stroke-width="1.5"/>
<text x="449.90" y="273.90" font-size="6.5" font-weight="bold" text-anchor="middle" >5</text>
<text x="468.70" y="262.10" font-size="6.5" font-weight="bold" text-anchor="middle" >4</text>
<text x="468.70" y="273.90" font-size="6.5" font-weight="bold" text-anchor="middle" >5</text>
<line x1="487.20" y1="260.50" x2="491.00" y2="260.50" stroke="#000" stroke-width="1.5"/>
<text x="489.10" y="273.90" font-size="6.5" font-weight="bold" text-anchor="middle" >8</text>
<text x="508.30" y="262.10" font-size="6.5" font-weight="bold" text-anchor="middle" >4</text>
<text x="508.30" y="273.90" font-size="6.5" font-weight="bold" text-anchor="middle" >8</text>
<line x1="407.20" y1="280.90" x2="511.80" y2="280.90" stroke="#000" stroke-width="1.3"/>
<text x="443.90" y="291.10" font-size="6.3" font-weight="bold" textLength="30.10" lengthAdjust="spacingAndGlyphs" >time: 24 h</text>
</svg>
</body></html>
